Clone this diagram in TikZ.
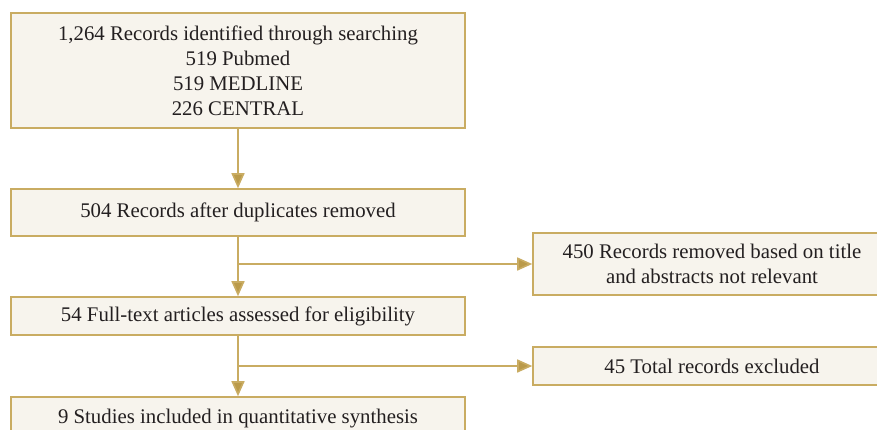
\documentclass[tikz,border=0pt]{standalone}
\usepackage{fontspec}
\setmainfont{Liberation Serif}
\usetikzlibrary{arrows.meta}
\definecolor{gold}{RGB}{201,172,98}
\definecolor{goldtip}{RGB}{186,154,74}
\definecolor{boxfill}{RGB}{247,244,237}
\definecolor{txt}{RGB}{35,31,32}
\begin{document}
\begin{tikzpicture}[x=1pt,y=1pt,
  box/.style={draw=gold, fill=boxfill, line width=1.6pt, inner sep=0pt, align=center,
    text=txt, font=\fontsize{20.8}{25}\selectfont},
  flow/.style={draw=gold, line width=1.6pt, -{Triangle[width=13pt,length=15pt,fill=goldtip]}}]
\useasboundingbox (0,0) rectangle (877,-429);
\clip (0,0) rectangle (877,-429);
\fill[white] (0,0) rectangle (877,-429);
\node[box, minimum width=454pt, minimum height=115pt] (b1) at (238,-70.5)
  {1,264 Records identified through searching\\519 Pubmed\\519 MEDLINE\\226 CENTRAL};
\node[box, minimum width=454pt, minimum height=47pt] (b2) at (238,-212.5)
  {504 Records after duplicates removed};
\node[box, minimum width=454pt, minimum height=38pt] (b3) at (238,-316)
  {54 Full-text articles assessed for eligibility};
\node[box, minimum width=454pt, minimum height=44pt] (b4) at (238,-419)
  {9 Studies included in quantitative synthesis};
\node[box, minimum width=358pt, minimum height=62pt] (r1) at (712,-264)
  {450 Records removed based on title\\and abstracts not relevant};
\node[box, minimum width=358pt, minimum height=38pt] (r2) at (712,-366)
  {45 Total records excluded};
\draw[flow] (b1) -- (b2);
\draw[flow] (b2) -- (b3);
\draw[flow] (b3) -- (b4);
\draw[flow] (b2.south |- r1.west) -- (r1.west);
\draw[flow] (b3.south |- r2.west) -- (r2.west);
\end{tikzpicture}
\end{document}
